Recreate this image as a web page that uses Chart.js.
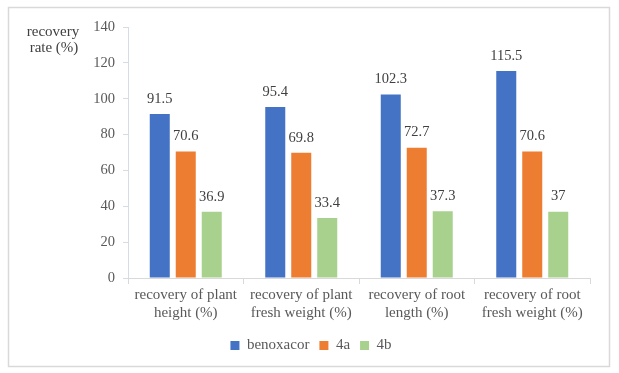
<!DOCTYPE html>
<html>
<head>
<meta charset="utf-8">
<script src="https://cdn.jsdelivr.net/npm/chart.js@4"></script>
<style>
  html, body { margin: 0; padding: 0; background: #fff; }
  #wrap { width: 619px; height: 373px; }
</style>
</head>
<body>
<div id="wrap"><canvas id="recoveryChart" width="619" height="373"></canvas></div>
<script>
// 類別與數據
const categories = [
    ['recovery of plant', 'height (%)'],
    ['recovery of plant', 'fresh weight (%)'],
    ['recovery of root', 'length (%)'],
    ['recovery of root', 'fresh weight (%)']
];
const benoxacor = [91.5, 95.4, 102.3, 115.5];
const values4a = [70.6, 69.8, 72.7, 70.6];
const values4b = [36.9, 33.4, 37.3, 37];
const yTicks = [0, 20, 40, 60, 80, 100, 120, 140];

const serif = '"Liberation Serif", "Times New Roman", serif';

// 背景與外框
const framePlugin = {
    id: 'frame',
    beforeDraw(chart) {
        const ctx = chart.ctx;
        ctx.save();
        ctx.fillStyle = '#fff';
        ctx.fillRect(0, 0, chart.width, chart.height);
        ctx.strokeStyle = '#d9d9d9';
        ctx.lineWidth = 1.5;
        ctx.strokeRect(8.5, 7.5, 601, 359);
        ctx.restore();
    },
    // 圖例往右移，對齊原圖置中位置
    afterLayout(chart) {
        if (chart.legend) {
            chart.legend.left += 16;
            chart.legend.right += 16;
        }
    }
};

// y 軸標題 (水平)
const yTitlePlugin = {
    id: 'yTitle',
    afterDraw(chart) {
        const ctx = chart.ctx;
        ctx.save();
        ctx.font = '15px ' + serif;
        ctx.fillStyle = '#404040';
        ctx.textAlign = 'center';
        ctx.textBaseline = 'middle';
        ctx.fillText('recovery', 53, 32);
        ctx.fillText('rate (%)', 54, 48);
        ctx.restore();
    }
};

// 數值標籤
const valueLabelPlugin = {
    id: 'valueLabels',
    afterDatasetsDraw(chart) {
        const ctx = chart.ctx;
        ctx.save();
        ctx.font = '14.5px ' + serif;
        ctx.fillStyle = '#404040';
        ctx.textAlign = 'center';
        ctx.textBaseline = 'middle';
        chart.data.datasets.forEach((ds, i) => {
            const meta = chart.getDatasetMeta(i);
            meta.data.forEach((bar, j) => {
                ctx.fillText(String(ds.data[j]), bar.x, bar.y - 15);
            });
        });
        ctx.restore();
    }
};

new Chart(document.getElementById('recoveryChart'), {
    type: 'bar',
    data: {
        labels: categories,
        datasets: [
            { label: 'benoxacor', data: benoxacor, backgroundColor: '#4472C4' },
            { label: '4a', data: values4a, backgroundColor: '#ED7D31' },
            { label: '4b', data: values4b, backgroundColor: '#A9D18E' }
        ]
    },
    options: {
        responsive: false,
        animation: false,
        devicePixelRatio: 1,
        categoryPercentage: 0.675,
        barPercentage: 0.77,
        layout: { padding: { left: 0, right: 29, top: 27, bottom: 10 } },
        plugins: {
            legend: {
                position: 'bottom',
                labels: {
                    boxWidth: 9,
                    boxHeight: 9,
                    padding: 10,
                    color: '#595959',
                    font: { family: serif, size: 15 }
                }
            },
            tooltip: { enabled: false }
        },
        scales: {
            x: {
                grid: {
                    offset: true,
                    drawOnChartArea: false,
                    drawTicks: true,
                    tickLength: 6,
                    color: '#d9d9d9'
                },
                border: { color: '#d9d9d9' },
                ticks: {
                    color: '#595959',
                    padding: 2,
                    maxRotation: 0,
                    font: { family: serif, size: 15, lineHeight: 1.2 }
                },
                afterFit: (scale) => { scale.height = 50; }
            },
            y: {
                min: 0,
                max: 140,
                afterBuildTicks: (scale) => {
                    scale.ticks = yTicks.map(v => ({ value: v }));
                },
                grid: {
                    drawOnChartArea: false,
                    drawTicks: true,
                    tickLength: 5,
                    color: '#d6dce5'
                },
                border: { color: '#d6dce5' },
                ticks: {
                    color: '#595959',
                    padding: 8,
                    font: { family: serif, size: 14.5 }
                },
                afterFit: (scale) => { scale.width = 128; }
            }
        }
    },
    plugins: [framePlugin, yTitlePlugin, valueLabelPlugin]
});
</script>
</body>
</html>
